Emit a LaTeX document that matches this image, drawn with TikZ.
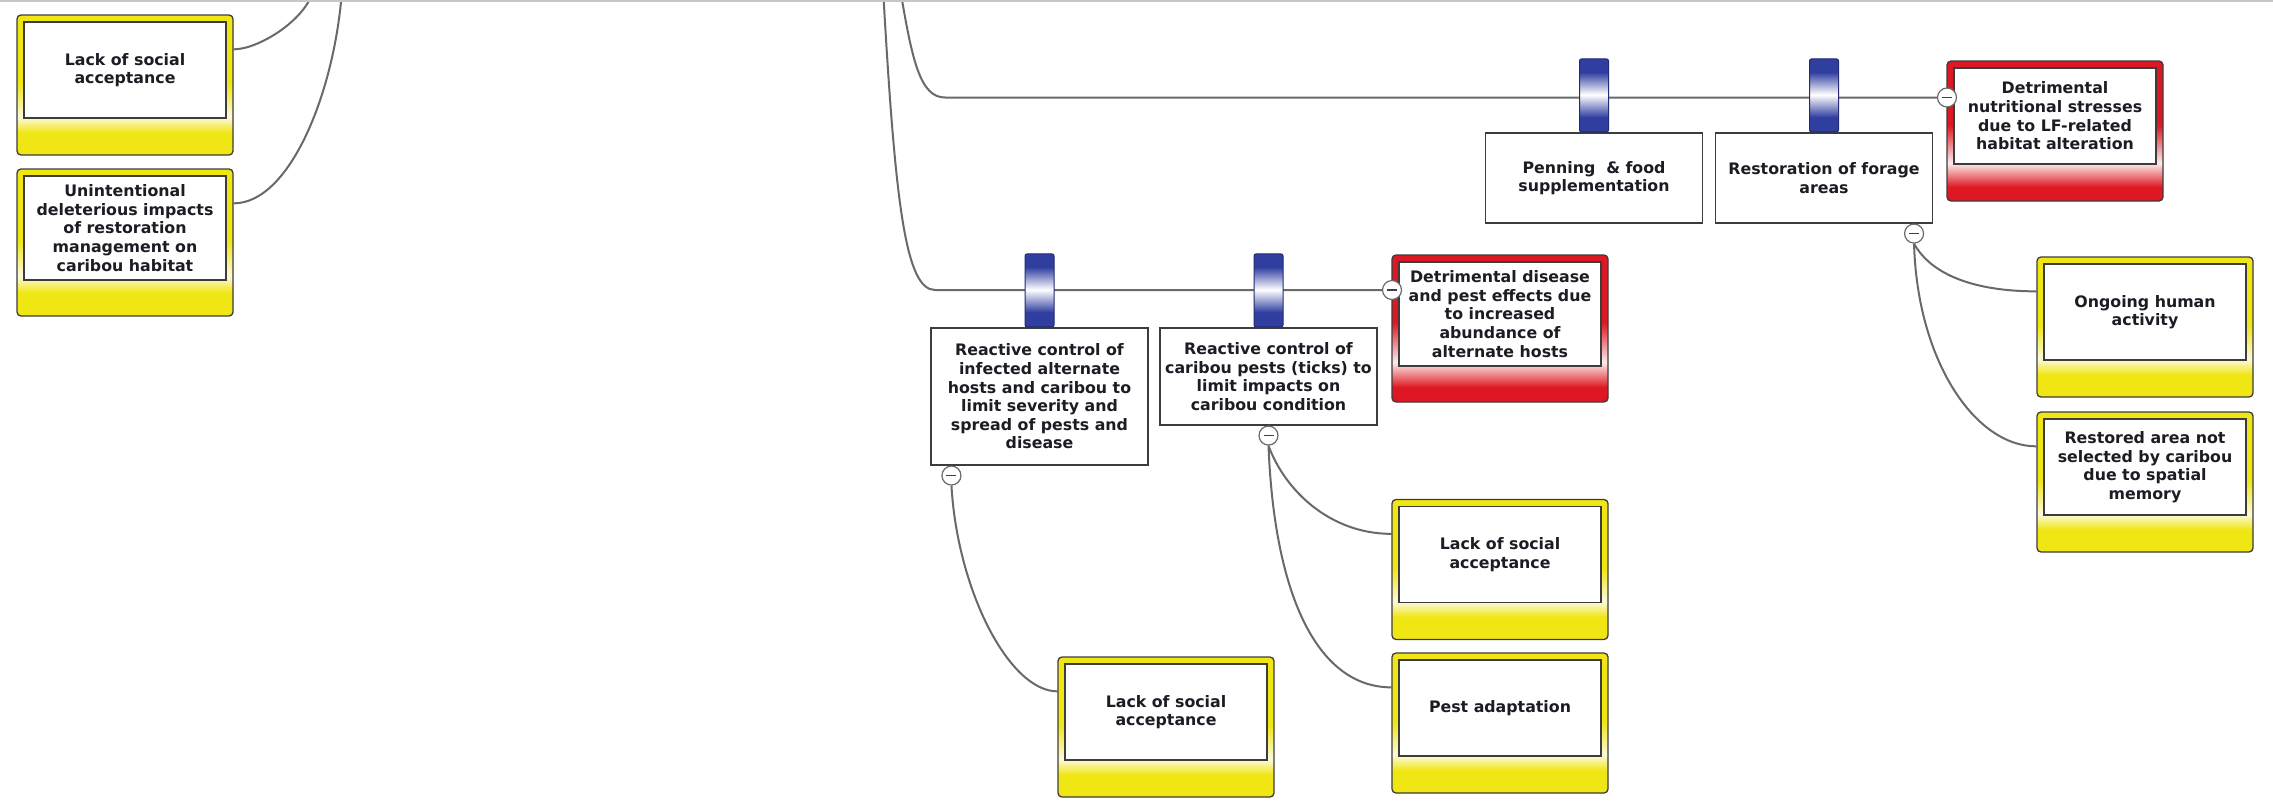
\documentclass[tikz,border=0pt]{standalone}
\usepackage{fontspec}
\setmainfont{DejaVu Sans}
\usetikzlibrary{calc}

% palette
\definecolor{ybright}{RGB}{240,230,20}
\definecolor{ypale}{RGB}{252,250,222}
\definecolor{rbright}{RGB}{222,24,34}
\definecolor{rpale}{RGB}{252,236,236}
\definecolor{tabblue}{RGB}{48,62,160}
\definecolor{tabline}{RGB}{35,42,115}
\definecolor{boxline}{RGB}{60,60,60}
\definecolor{linkgray}{RGB}{105,105,105}
\definecolor{inkdark}{RGB}{28,28,36}

% frame fills: saturated top, pale band at the card's lower edge, saturated foot
\pgfdeclareverticalshading{yframe}{100bp}{color(0bp)=(ybright); color(33bp)=(ybright); color(38.5bp)=(ypale); color(50.5bp)=(ybright); color(100bp)=(ybright)}
\pgfdeclareverticalshading{rframe}{100bp}{color(0bp)=(rbright); color(30bp)=(rbright); color(38.5bp)=(rpale); color(52bp)=(rbright); color(100bp)=(rbright)}
\pgfdeclareverticalshading{tabshade}{100bp}{color(0bp)=(tabblue); color(35bp)=(tabblue); color(50.5bp)=(white); color(66bp)=(tabblue); color(100bp)=(tabblue)}

\newcommand\cardfont{\fontsize{15.8}{18.6}\selectfont\bfseries}

\pgfdeclarelayer{bg}
\pgfdeclarelayer{links}
\pgfsetlayers{bg,links,main}

\begin{document}
\begin{tikzpicture}[x=1pt,y=-1pt,
  frame/.style={draw=boxline, line width=1.3, rounded corners=4,
    minimum width=216, minimum height=140, inner sep=0},
  yframe/.style={frame, shade, shading=yframe},
  rframe/.style={frame, shade, shading=rframe},
  card/.style={draw=boxline, line width=1.3, fill=white, minimum width=202,
    minimum height=96, inner sep=0, align=center, font=\cardfont, text=inkdark},
  plainbox/.style={draw=boxline, line width=1.1, fill=white, minimum width=217,
    inner sep=0, align=center, font=\cardfont, text=inkdark},
  tabsty/.style={draw=tabline, line width=1, shade, shading=tabshade,
    minimum width=29, minimum height=73, inner sep=0, rounded corners=2},
  minus/.style={circle, draw=linkgray, line width=1.2, fill=white,
    minimum size=19, inner sep=0,
    path picture={\draw[line width=1.4, black!75]
      ([xshift=-5pt]path picture bounding box.center) --
      ([xshift=5pt]path picture bounding box.center);}},
  link/.style={draw=linkgray, line width=2}
]
\useasboundingbox (0,0) rectangle (2273,801);
\begin{pgfonlayer}{bg}
\fill[white] (0,0) rectangle (2273,801);
\draw[black!22, line width=1.5] (0,0.75) -- (2273,0.75);
\end{pgfonlayer}

% ---------- left column ----------
\node[yframe] (lb1) at (125,85) {};
\node[card] (lb1t) at (125,70) {Lack of social\\acceptance};
\node[yframe, minimum height=147] (lb2) at (125,242.5) {};
\node[card, minimum height=104] (lb2t) at (125,228)
  {Unintentional\\deleterious impacts\\of restoration\\management on\\caribou habitat};

% ---------- consequences ----------
\node[rframe] (rb1) at (2055,131) {};
\node[card] (rb1t) at (2055,116)
  {Detrimental\\nutritional stresses\\due to LF-related\\habitat alteration};
\node[rframe, minimum height=147] (rb2) at (1500,328.5) {};
\node[card, minimum height=104] (rb2t) at (1500,314)
  {Detrimental disease\\and pest effects due\\to increased\\abundance of\\alternate hosts};

% ---------- controls ----------
\node[plainbox, minimum height=90] (pen) at (1594,178) {Penning~ \& food\\supplementation};
\node[plainbox, minimum height=90] (rest) at (1824,178) {Restoration of forage\\areas};
\node[plainbox, minimum height=137] (ra) at (1039.5,396.5)
  {Reactive control of\\infected alternate\\hosts and caribou to\\limit severity and\\spread of pests and\\disease};
\node[plainbox, minimum height=97] (rc) at (1268.5,376.5)
  {Reactive control of\\caribou pests (ticks) to\\limit impacts on\\caribou condition};

\node[tabsty, anchor=south] (tab1) at (pen.north) {};
\node[tabsty, anchor=south] (tab2) at (rest.north) {};
\node[tabsty, anchor=south] (tab3) at (ra.north) {};
\node[tabsty, anchor=south] (tab4) at (rc.north) {};

% ---------- escalation factors ----------
\node[yframe] (ong) at (2145,327) {};
\node[card] (ongt) at (2145,312) {Ongoing human\\activity};
\node[yframe] (rsel) at (2145,482) {};
\node[card] (rselt) at (2145,467) {Restored area not\\selected by caribou\\due to spatial\\memory};
\node[yframe] (lk2) at (1500,569.5) {};
\node[card] (lk2t) at (1500,554.5) {Lack of social\\acceptance};
\node[yframe] (pest) at (1500,723) {};
\node[card] (pestt) at (1500,708) {Pest adaptation};
\node[yframe] (lk3) at (1166,727) {};
\node[card] (lk3t) at (1166,712) {Lack of social\\acceptance};

% ---------- collapse markers ----------
\node[minus] (m1) at (1947,97.5) {};
\node[minus] (m2) at (1392,290) {};
\node[minus] (mA) at ([shift={(21,10)}]ra.south west) {};
\node[minus] (mB) at ([yshift=-10pt]rc.south) {};
\node[minus] (mC) at ([shift={(-19,10)}]rest.south east) {};

% branches arriving from above
\coordinate (up1) at (883,-12);
\coordinate (up2) at (900,-12);
\coordinate (up3) at (313,-8);
\coordinate (up4) at (342,-10);

\begin{pgfonlayer}{links}
\clip (0,2) rectangle (2273,801);
\draw[link] (up1) .. controls (895,200) and (905,290) .. (935,290) -- (m2.west);
\draw[link] (up2) .. controls (912,60) and (920,97.5) .. (945,97.5) -- (m1.west);
\draw[link] ([yshift=-35pt]lb1.north east) .. controls +(24,0) and +(-10,30) .. (up3);
\draw[link] ([yshift=-35pt]lb2.north east) .. controls +(57,0) and +(-7,100) .. (up4);
\draw[link] (mA.south) .. controls +(6,105) and +(-48,0) .. ([yshift=-35pt]lk3.north west);
\draw[link] (mB.south) .. controls +(16,44) and +(-62,0) .. ([yshift=-35pt]lk2.north west);
\draw[link] (mB.south) .. controls +(6,154) and +(-72,0) .. ([yshift=-35pt]pest.north west);
\draw[link] (mC.south) .. controls +(17,31) and +(-62,0) .. ([yshift=-35pt]ong.north west);
\draw[link] (mC.south) .. controls +(3,116) and +(-62,0) .. ([yshift=-35pt]rsel.north west);
\end{pgfonlayer}
\end{tikzpicture}
\end{document}
